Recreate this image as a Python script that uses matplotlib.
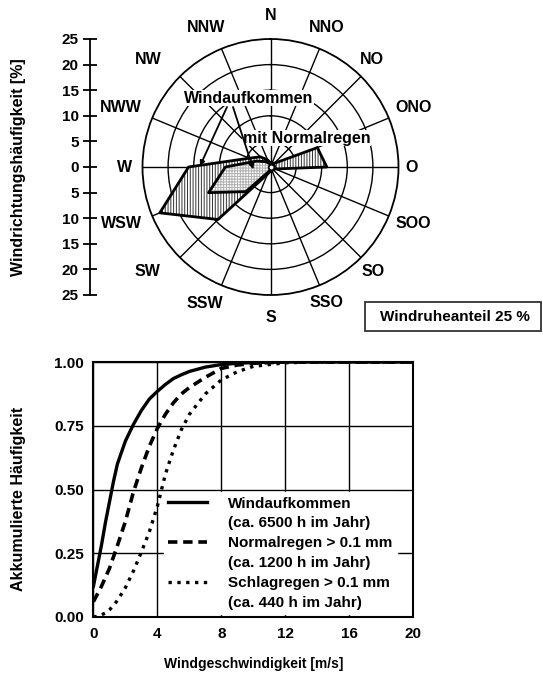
import numpy as np
import matplotlib
matplotlib.use("Agg")
import matplotlib.pyplot as plt
from matplotlib.patches import Rectangle
from matplotlib.lines import Line2D

plt.rcParams['font.family'] = ['Liberation Sans', 'DejaVu Sans']
plt.rcParams['font.weight'] = 'bold'
plt.rcParams['hatch.linewidth'] = 0.7

# ---------------- data ----------------
directions = ['N', 'NNO', 'NO', 'ONO', 'O', 'SOO', 'SO', 'SSO',
              'S', 'SSW', 'SW', 'WSW', 'W', 'NWW', 'NW', 'NNW']
freq_wind = [0.8, 0.8, 1.0, 9.9, 11.0, 1.0, 0.8, 0.8,
             0.8, 1.5, 14.5, 23.4, 16.0, 4.5, 2.8, 1.5]
freq_rain = [0.5, 0.5, 0.5, 0.8, 0.8, 0.5, 0.5, 0.5,
             0.5, 1.0, 6.8, 13.1, 8.8, 3.0, 1.5, 0.8]
rose_scale_ticks = [-25, -20, -15, -10, -5, 0, 5, 10, 15, 20, 25]
calm_label = 'Windruheanteil 25 %'

speed = [0, 0.25, 0.5, 0.75, 1, 1.25, 1.5, 2, 2.5, 3, 3.5, 4, 4.5, 5, 5.5,
         6, 7, 8, 9, 10, 12, 14, 16, 20]
cdf_wind = [0.12, 0.20, 0.28, 0.37, 0.45, 0.53, 0.60, 0.69, 0.755, 0.81,
            0.855, 0.885, 0.912, 0.935, 0.95, 0.963, 0.98, 0.99, 0.995,
            0.998, 1.0, 1.0, 1.0, 1.0]
cdf_normal = [0.06, 0.09, 0.12, 0.155, 0.19, 0.235, 0.28, 0.375, 0.49, 0.585,
              0.67, 0.74, 0.795, 0.84, 0.875, 0.90, 0.94, 0.975, 0.988,
              0.995, 1.0, 1.0, 1.0, 1.0]
cdf_driving = [0.0, 0.003, 0.008, 0.016, 0.028, 0.045, 0.065, 0.115, 0.18,
               0.255, 0.335, 0.435, 0.56, 0.655, 0.735, 0.795, 0.875, 0.93,
               0.962, 0.983, 0.997, 1.0, 1.0, 1.0]
legend_labels = ['Windaufkommen', '(ca. 6500 h im Jahr)',
                 'Normalregen > 0.1 mm', '(ca. 1200 h im Jahr)',
                 'Schlagregen > 0.1 mm', '(ca. 440 h im Jahr)']

# ---------------- layout ----------------
W, H = 543, 677
fig = plt.figure(figsize=(W / 100, H / 100), dpi=100)

def fx(px):
    return px / W

def fy(py):
    return 1 - py / H

cx, cy, R = 270.5, 167.0, 128.0     # rose centre / radius in pixels
pxpct = R / 25.0

ax = fig.add_axes([fx(cx - R), fy(cy + R), 2 * R / W, 2 * R / H],
                  projection='polar')
ax.set_theta_zero_location('N')
ax.set_theta_direction(-1)
ax.set_ylim(0, 25)
theta = np.deg2rad(np.arange(len(directions)) * 22.5)
ax.set_thetagrids(np.rad2deg(theta), labels=[''] * len(directions))
ax.set_rgrids([5, 10, 15, 20], labels=[''] * 4)
ax.grid(True, color='black', linewidth=1.0)
ax.spines['polar'].set_linewidth(1.3)
ax.tick_params(length=0, pad=0)

tc = np.append(theta, theta[0])
fw = np.append(freq_wind, freq_wind[0])
fr = np.append(freq_rain, freq_rain[0])
ax.fill(tc, fw, facecolor='white', edgecolor='#333333', hatch='||||||',
        linewidth=0, zorder=3)
ax.plot(tc, fw, color='black', linewidth=2.0, zorder=4)
ax.fill(tc, fr, facecolor='white', edgecolor='#b0b0b0', hatch='++++++',
        linewidth=0, zorder=5)
ax.plot(tc, fr, color='black', linewidth=2.0, zorder=6)
ax.plot([0], [0], 'o', ms=4, mfc='white', mec='black', mew=1.2, zorder=7)

# direction labels (pixel offsets from the rose centre)
label_offsets = [(0, 152), (56.5, 140), (101, 107), (143, 59), (141, 0),
                 (143, -56), (102.5, -105), (56, -135), (0, -150),
                 (-65.5, -136), (-123.5, -105), (-149.5, -56), (-146, 0),
                 (-149.5, 59), (-122.5, 107), (-64.5, 140)]

def polar_of(dx, dy):
    return np.arctan2(dx, dy), np.hypot(dx, dy) / pxpct

for name, (dx, dy) in zip(directions, label_offsets):
    t, r = polar_of(dx, dy)
    ax.text(t, r, name, ha='center', va='center', fontsize=11.5,
            fontweight='bold', clip_on=False)

# annotations
t, r = polar_of(-22.2, 68.7)
ax.text(t, r, 'Windaufkommen', ha='center', va='center', fontsize=11.5,
        fontweight='bold', zorder=8,
        bbox=dict(facecolor='white', edgecolor='none', pad=0.5))
t, r = polar_of(36.2, 28.7)
ax.text(t, r, 'mit Normalregen', ha='center', va='center', fontsize=11.5,
        fontweight='bold', zorder=8,
        bbox=dict(facecolor='white', edgecolor='none', pad=0.5))
for (sx, sy), (ex, ey) in [((-43.5, 60), (-70.5, 1)),
                           ((-37.5, 60), (-17.2, -2.3))]:
    ts, rs = polar_of(sx, sy)
    te, re = polar_of(ex, ey)
    ax.annotate('', xy=(te, re), xytext=(ts, rs), zorder=9,
                arrowprops=dict(arrowstyle='-|>', color='black', lw=1.3,
                                mutation_scale=7, shrinkA=0, shrinkB=0))

# left radial scale
sax = fig.add_axes([fx(90), fy(cy + R), 0.0001, 2 * R / H])
sax.set_ylim(-25, 25)
for s in ['right', 'top', 'bottom']:
    sax.spines[s].set_visible(False)
sax.spines['left'].set_linewidth(1.3)
sax.set_xticks([])
sax.set_yticks(rose_scale_ticks)
sax.set_yticklabels([str(abs(v)) for v in rose_scale_ticks], fontsize=11,
                    fontweight='bold')
sax.tick_params(axis='y', direction='inout', length=10, width=1.3, pad=3)
fig.text(fx(19), fy(167), 'Windrichtungshäufigkeit [%]', rotation=90,
         ha='center', va='center', fontsize=11.5, fontweight='bold')

# calm box
bx0, bx1, by0, by1 = 365, 541, 302, 331
fig.patches.append(Rectangle((fx(bx0), fy(by1)), (bx1 - bx0) / W,
                             (by1 - by0) / H, transform=fig.transFigure,
                             facecolor='white', edgecolor='#333333',
                             linewidth=1.3))
fig.text(fx(455), fy(317), calm_label, ha='center', va='center',
         fontsize=11, fontweight='bold')

# ---------------- cumulative plot ----------------
l, r_, t_, b_ = 93.4, 413.4, 362, 617
bx = fig.add_axes([fx(l), fy(b_), (r_ - l) / W, (b_ - t_) / H])
bx.set_xlim(0, 20)
bx.set_ylim(0, 1)
bx.set_xticks([0, 4, 8, 12, 16, 20])
bx.set_yticks([0, 0.25, 0.5, 0.75, 1.0])
bx.set_yticklabels(['%.2f' % v for v in [0, 0.25, 0.5, 0.75, 1.0]])
bx.tick_params(length=0, pad=7, labelsize=11)
for lab in bx.get_xticklabels() + bx.get_yticklabels():
    lab.set_fontweight('bold')
bx.grid(True, color='black', linewidth=1.0, zorder=0)
bx.set_axisbelow(True)
for s in bx.spines.values():
    s.set_linewidth(1.5)
    s.set_zorder(10)

h1, = bx.plot(speed, cdf_wind, color='black', lw=2.4, zorder=3)
h2, = bx.plot(speed, cdf_normal, color='black', lw=2.6, dashes=(2.6, 1.6),
              zorder=3)
h3, = bx.plot(speed, cdf_driving, color='black', lw=2.4, linestyle=':',
              zorder=3)
blank = Line2D([], [], color='none')
leg = bx.legend([h1, blank, h2, blank, h3, blank], legend_labels,
                loc='upper left', bbox_to_anchor=(0.22, 0.49),
                frameon=True, fancybox=False, framealpha=1,
                facecolor='white', edgecolor='white',
                prop={'weight': 'bold', 'size': 11},
                handlelength=2.5, handletextpad=1.4, labelspacing=0.38,
                borderpad=0.3, borderaxespad=0)
leg.set_zorder(5)

bx.set_xlabel('Windgeschwindigkeit [m/s]', fontsize=10, fontweight='bold',
              labelpad=12)
fig.text(fx(19), fy(499), 'Akkumulierte Häufigkeit', rotation=90,
         ha='center', va='center', fontsize=11.5, fontweight='bold')

fig.savefig('out.png', dpi=100)
